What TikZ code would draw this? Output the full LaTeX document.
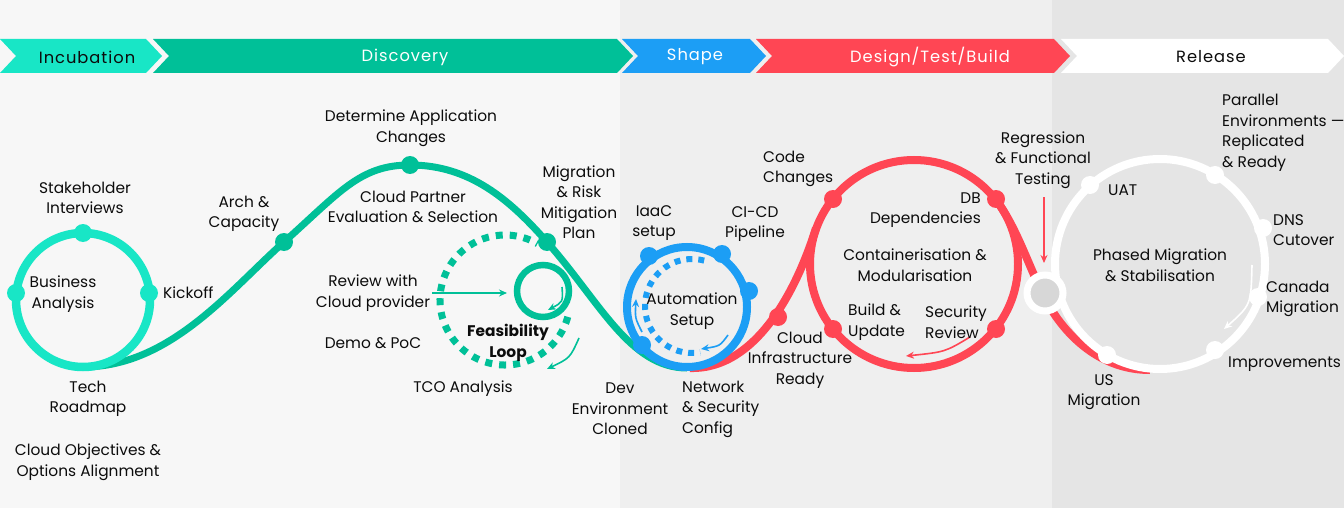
\documentclass[tikz,border=0pt]{standalone}
\usepackage{fontspec}
\setmainfont{Poppins}
\usetikzlibrary{arrows.meta}

\definecolor{incub}{RGB}{24,230,198}
\definecolor{disc}{RGB}{0,192,152}
\definecolor{shapeblue}{RGB}{28,158,245}
\definecolor{dtbred}{RGB}{255,70,84}
\definecolor{bgA}{RGB}{247,247,247}
\definecolor{bgB}{RGB}{239,239,239}
\definecolor{bgC}{RGB}{229,229,229}
\definecolor{hub}{RGB}{215,215,215}
\definecolor{ink}{RGB}{12,12,12}

\begin{document}
\begin{tikzpicture}[x=1pt, y=-1pt, >=Stealth,
  lbl/.style={font=\fontsize{15.4}{20.5}\selectfont, text=ink, align=center, inner sep=0pt},
  lblL/.style={lbl, align=left, anchor=west},
  hdr/.style={font=\fontsize{16.3}{18}\selectfont\addfontfeature{LetterSpace=6}, inner sep=0pt},
  ring/.style={line width=8pt},
  knob/.style={radius=9},
  pointer/.style={line width=1.6pt, -{Stealth[length=8pt,width=7pt]}}]
  \fill[bgA] (0,0) rectangle (620,508);
  \fill[bgB] (620,0) rectangle (1052,508);
  \fill[bgC] (1052,0) rectangle (1344,508);
  \useasboundingbox (0,0) rectangle (1344,508);

  \fill[incub] (0,39) -- (146,39) -- (162,56) -- (146,73) -- (0,73) -- (16,56) -- cycle;
  \fill[disc] (153,39) -- (617,39) -- (633,56) -- (617,73) -- (153,73) -- (169,56) -- cycle;
  \fill[shapeblue] (622,39) -- (750,39) -- (766,56) -- (750,73) -- (622,73) -- (638,56) -- cycle;
  \fill[dtbred] (756,39) -- (1054,39) -- (1070,56) -- (1054,73) -- (756,73) -- (772,56) -- cycle;
  \fill[white] (1061,39) -- (1328,39) -- (1344,56) -- (1328,73) -- (1061,73) -- (1077,56) -- cycle;
  \node[hdr, text=ink] (incubation) at (87,57) {Incubation};
  \node[hdr, text=white] (discovery) at (405,57) {Discovery};
  \node[hdr, text=white] (shape) at (695,57) {Shape};
  \node[hdr, text=white] (dtb) at (930,57) {Design/Test/Build};
  \node[hdr, text=ink] (release) at (1211,57) {Release};

  \coordinate (stake) at (83,233);
  \coordinate (busin) at (16,293);
  \coordinate (kick) at (149,293);
  \coordinate (arch) at (284,242);
  \coordinate (appchg) at (410,165);
  \coordinate (migplan) at (547,242);
  \coordinate (iaacdot) at (649,256);
  \coordinate (cicddot) at (722,254);
  \coordinate (autodot) at (749,291);
  \coordinate (devdot) at (642,345);
  \coordinate (infradot) at (778,317);
  \coordinate (codedot) at (833,199);
  \coordinate (dbdot) at (996,199);
  \coordinate (builddot) at (833,329);
  \coordinate (secdot) at (996,329);
  \coordinate (hubdot) at (1045,293);
  \coordinate (uatdot) at (1090,185);
  \coordinate (paradot) at (1215,175);
  \coordinate (dnsdot) at (1263,228);
  \coordinate (canadot) at (1258,297);
  \coordinate (impdot) at (1215,350);
  \coordinate (usdot) at (1107,355);

  \draw[line width=7pt, disc] (83,367) .. controls (170,367) and (230,290) .. (arch)
    .. controls (340,192) and (360,165) .. (appchg)
    .. controls (470,165) and (510,200) .. (migplan)
    .. controls (600,302) and (630,368) .. (687,368);
  \draw[line width=7pt, disc, dash pattern=on 7pt off 7pt] ([shift={(15:65)}]505,300) arc[start angle=15, end angle=300, radius=65];
  \draw[line width=6.5pt, disc] (543,291) circle[radius=26];
  \draw[line width=8.5pt, incub] (83,300) circle[radius=67];

  \draw[ring, dtbred] (690,368) .. controls (760,370) and (800,280) .. (816,228);
  \draw[ring, dtbred] (999,204) .. controls (1024,240) and (1035,290) .. (1060,322)
    .. controls (1080,348) and (1110,370) .. (1150,370);
  \draw[ring, dtbred] (914,264) circle[radius=104];

  \draw[ring, shapeblue] (687,307) circle[radius=60];
  \draw[line width=6pt, shapeblue, dash pattern=on 6pt off 6pt] ([shift={(285:47)}]692,306) arc[start angle=285, end angle=80, radius=47];

  \draw[ring, white] (1160,264) circle[radius=105];
  \filldraw[fill=hub, draw=white, line width=7pt] (hubdot) circle[radius=18];

  \fill[incub] (stake) circle[knob] (busin) circle[knob] (kick) circle[knob];
  \fill[disc] (arch) circle[knob] (appchg) circle[knob] (migplan) circle[knob];
  \fill[shapeblue] (iaacdot) circle[knob] (cicddot) circle[knob] (autodot) circle[knob] (devdot) circle[knob];
  \fill[dtbred] (infradot) circle[knob] (codedot) circle[knob] (dbdot) circle[knob] (builddot) circle[knob] (secdot) circle[knob];
  \fill[white] (uatdot) circle[knob] (paradot) circle[knob] (dnsdot) circle[knob] (canadot) circle[knob] (impdot) circle[knob] (usdot) circle[knob];

  \coordinate (rv-a) at (432,293);
  \coordinate (rv-b) at (507,293);
  \coordinate (fl-a) at (562,287);
  \coordinate (fl-b) at (548,310);
  \coordinate (fo-a) at (579,338);
  \coordinate (fo-b) at (547,369);
  \coordinate (au-a) at (642,332);
  \coordinate (au-b) at (636,299);
  \coordinate (au-c) at (728,335);
  \coordinate (au-d) at (701,349);
  \coordinate (rg-a) at (1044,197);
  \coordinate (rg-b) at (1044,263);
  \coordinate (dt-a) at (970,337);
  \coordinate (dt-b) at (906,356);
  \coordinate (ph-a) at (1252,265);
  \coordinate (ph-b) at (1224,329);
  \draw[pointer, disc] (rv-a) -- (rv-b);
  \draw[pointer, disc] (fl-a) .. controls (563,302) .. (fl-b);
  \draw[pointer, disc] (fo-a) .. controls (570,358) .. (fo-b);
  \draw[pointer, shapeblue] (au-a) .. controls (635,318) .. (au-b);
  \draw[pointer, shapeblue] (au-c) .. controls (720,346) .. (au-d);
  \draw[pointer, dtbred] (rg-a) -- (rg-b);
  \draw[pointer, dtbred] (dt-a) .. controls (945,352) .. (dt-b);
  \draw[pointer, white] (ph-a) .. controls (1251,305) .. (ph-b);

  \node[lbl] (stakeholder) at (85,198) {Stakeholder\\Interviews};
  \node[lbl] (business) at (63,294) {Business\\Analysis};
  \node[lblL] (kickoff) at (163,293) {Kickoff};
  \node[lbl] (techmap) at (88,399) {Tech\\Roadmap};
  \node[lbl] (objectives) at (88,462) {Cloud Objectives \&\\Options Alignment};
  \node[lbl] (archcap) at (244,214) {Arch \&\\Capacity};
  \node[lbl] (appchanges) at (411,128) {Determine Application\\Changes};
  \node[lbl] (partner) at (413,207) {Cloud Partner\\Evaluation \& Selection};
  \node[lbl] (riskplan) at (579,202) {Migration\\\& Risk\\Mitigation\\Plan};
  \node[lbl] (review) at (373,293) {Review with\\Cloud provider};
  \node[lbl] (demo) at (373,343) {Demo \& PoC};
  \node[lbl, font=\fontsize{15.4}{20.5}\selectfont\bfseries] (feasibility) at (508,343) {Feasibility\\Loop};
  \node[lbl] (tco) at (463,389) {TCO Analysis};
  \node[lbl] (iaac) at (654,223) {IaaC\\setup};
  \node[lbl] (cicd) at (755,224) {CI-CD\\Pipeline};
  \node[lbl] (automation) at (692,311) {Automation\\Setup};
  \node[lbl] (devenv) at (620,409) {Dev\\Environment\\Cloned};
  \node[lblL] (network) at (682,409) {Network\\\& Security\\Config};
  \node[lbl] (infra) at (800,360) {Cloud\\Infrastructure\\Ready};
  \node[lblL] (codechg) at (763,169) {Code\\Changes};
  \node[lbl, align=right, anchor=east] (dbdeps) at (981,210) {DB\\Dependencies};
  \node[lbl] (container) at (915,265) {Containerisation \&\\Modularisation};
  \node[lblL] (buildupd) at (848,322) {Build \&\\Update};
  \node[lblL] (secreview) at (925,322) {Security\\Review};
  \node[lbl] (regression) at (1043,160) {Regression\\\& Functional\\Testing};
  \node[lblL] (uat) at (1108,190) {UAT};
  \node[lblL] (parallel) at (1222,133) {Parallel\\Environments —\\Replicated\\\& Ready};
  \node[lblL] (dns) at (1273,230) {DNS\\Cutover};
  \node[lbl] (phased) at (1160,265) {Phased Migration\\\& Stabilisation};
  \node[lblL] (canada) at (1266,299) {Canada\\Migration};
  \node[lblL] (improve) at (1228,364) {Improvements};
  \node[lbl] (usmig) at (1104,392) {US\\Migration};
\end{tikzpicture}
\end{document}
